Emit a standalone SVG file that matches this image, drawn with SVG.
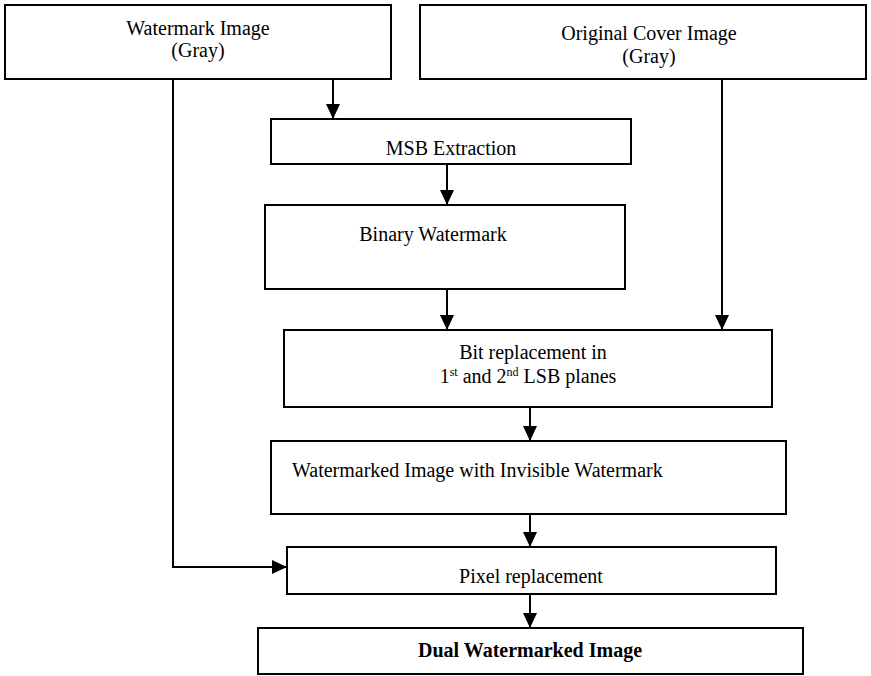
<svg xmlns="http://www.w3.org/2000/svg" width="871" height="676" viewBox="0 0 871 676">
<style>
.box{fill:#fff;stroke:#000;stroke-width:2}
.t{font-family:'Liberation Serif','Times New Roman','DejaVu Serif',serif;font-size:20px;fill:#000}
.c{text-anchor:middle}
.b{font-weight:bold}
.sup{font-size:12px}
.con{fill:none;stroke:#000;stroke-width:2}
</style>
<defs>
<marker id="ah" markerUnits="userSpaceOnUse" markerWidth="16" markerHeight="14" refX="15" refY="7" orient="auto">
<path d="M0,0 L15,7 L0,14 Z" fill="#000"/>
</marker>
</defs>
<rect width="871" height="676" fill="#fff"/>
<g id="n-watermark">
<rect class="box" x="5" y="5" width="386" height="74"/>
<text class="t c" x="198" y="35">Watermark Image</text>
<text class="t c" x="198" y="57">(Gray)</text>
</g>
<g id="n-cover">
<rect class="box" x="420" y="5" width="446" height="74"/>
<text class="t c" x="649" y="40">Original Cover Image</text>
<text class="t c" x="649" y="63">(Gray)</text>
</g>
<g id="n-msb">
<rect class="box" x="271" y="119" width="360" height="45"/>
<text class="t c" x="451" y="155">MSB Extraction</text>
</g>
<g id="n-binary">
<rect class="box" x="265" y="205" width="360" height="84"/>
<text class="t c" x="433" y="241">Binary Watermark</text>
</g>
<g id="n-bit">
<rect class="box" x="284" y="330" width="488" height="77"/>
<text class="t c" x="533" y="359">Bit replacement in</text>
<text class="t c" x="528" y="383">1<tspan class="sup" dy="-7">st</tspan><tspan dy="7"> and 2</tspan><tspan class="sup" dy="-7">nd</tspan><tspan dy="7"> LSB planes</tspan></text>
</g>
<g id="n-watermarked">
<rect class="box" x="271" y="441" width="515" height="73"/>
<text class="t" x="292" y="477">Watermarked Image with Invisible Watermark</text>
</g>
<g id="n-pixel">
<rect class="box" x="287" y="547" width="489" height="47"/>
<text class="t c" x="531" y="583">Pixel replacement</text>
</g>
<g id="n-dual">
<rect class="box" x="258" y="628" width="545" height="46"/>
<text class="t c b" x="530" y="657">Dual Watermarked Image</text>
</g>
<g id="connectors">
<line class="con" x1="333" y1="79" x2="333" y2="119" marker-end="url(#ah)"/>
<line class="con" x1="447" y1="164" x2="447" y2="205" marker-end="url(#ah)"/>
<line class="con" x1="447" y1="289" x2="447" y2="330" marker-end="url(#ah)"/>
<line class="con" x1="722" y1="79" x2="722" y2="330" marker-end="url(#ah)"/>
<line class="con" x1="530" y1="407" x2="530" y2="441" marker-end="url(#ah)"/>
<line class="con" x1="530" y1="514" x2="530" y2="547" marker-end="url(#ah)"/>
<line class="con" x1="530" y1="594" x2="530" y2="628" marker-end="url(#ah)"/>
<polyline class="con" points="173,79 173,567 287,567" marker-end="url(#ah)"/>
</g>
</svg>
